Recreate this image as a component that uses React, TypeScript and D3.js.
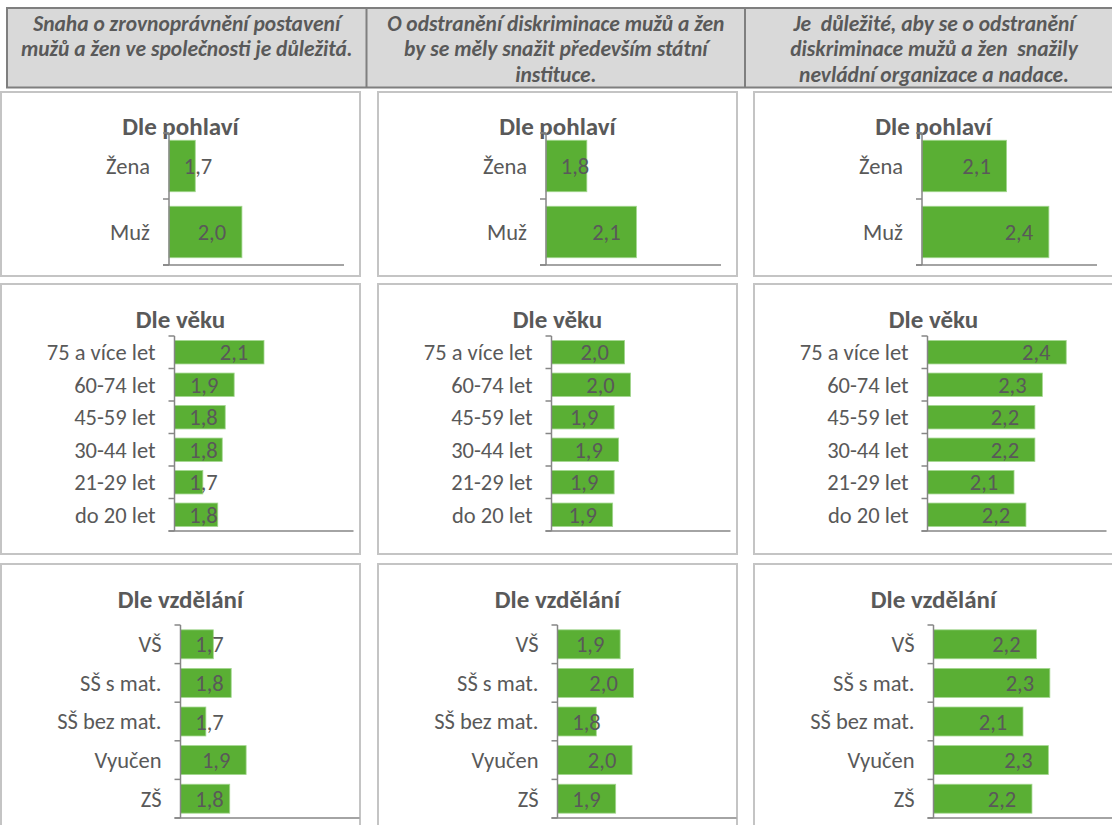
import { useEffect, useRef } from 'react';
import * as d3 from 'd3';

// column headers (one per survey statement)
const questionLines = [
  ['Snaha o zrovnoprávnění postavení', 'mužů a žen ve společnosti je důležitá.'],
  ['O odstranění diskriminace mužů a žen', 'by se měly snažit především státní', 'instituce.'],
  ['Je  důležité, aby se o odstranění', 'diskriminace mužů a žen  snažily', 'nevládní organizace a nadace.'],
];

const groupTitles = ['Dle pohlaví', 'Dle věku', 'Dle vzdělání'];

const genderCats = ['Žena', 'Muž'];
const ageCats = ['75 a více let', '60-74 let', '45-59 let', '30-44 let', '21-29 let', 'do 20 let'];
const eduCats = ['VŠ', 'SŠ s mat.', 'SŠ bez mat.', 'Vyučen', 'ZŠ'];

// average scores, one array per statement (column)
const genderValues = [
  [1.68, 2.0],
  [1.78, 2.12],
  [2.08, 2.37],
];
const ageValues = [
  [2.1, 1.9, 1.84, 1.82, 1.69, 1.79],
  [1.99, 2.03, 1.92, 1.95, 1.92, 1.91],
  [2.43, 2.27, 2.22, 2.22, 2.08, 2.16],
];
const eduValues = [
  [1.72, 1.84, 1.67, 1.94, 1.83],
  [1.92, 2.01, 1.76, 2.0, 1.89],
  [2.19, 2.28, 2.1, 2.27, 2.16],
];

const valueDomain: [number, number] = [1.5, 2.7];

export default function App() {
  const svgRef = useRef<SVGSVGElement>(null);

  useEffect(() => {
    if (!svgRef.current) return;
    const svg = d3.select(svgRef.current);
    svg.selectAll('*').remove();

    const font = 'Carlito, Calibri, Lato, sans-serif';
    const textColor = '#595959';
    const axisColor = '#868686';
    const barColor = '#5aaf34';

    // header band
    const header = svg.append('g');
    header.append('rect')
      .attr('x', 7).attr('y', 8)
      .attr('width', 1125).attr('height', 79.5)
      .attr('fill', '#d9d9d9')
      .attr('stroke', '#7f7f7f')
      .attr('stroke-width', 2);
    [366.5, 745].forEach(x => {
      header.append('line')
        .attr('x1', x).attr('x2', x)
        .attr('y1', 8).attr('y2', 87.5)
        .attr('stroke', '#7f7f7f')
        .attr('stroke-width', 2);
    });
    const headerCenters = [186.7, 555.8, 934];
    questionLines.forEach((lines, i) => {
      lines.forEach((line, j) => {
        header.append('text')
          .attr('x', headerCenters[i])
          .attr('y', 30.5 + j * 25.5)
          .attr('text-anchor', 'middle')
          .attr('font-family', font)
          .attr('font-size', '21.5px')
          .attr('font-weight', 'bold')
          .attr('font-style', 'italic')
          .attr('fill', textColor)
          .style('white-space', 'pre')
          .text(line);
      });
    });

    // panel geometry
    const colX = [1, 378, 754];
    const boxW = 359;
    const rowY = [92, 284, 564];
    const rowH = [184, 270, 275];
    const titleDy = [43, 44, 44];
    const plotTop = [41, 52, 61];
    const plotBottom = [173, 247, 254];
    const axisDx = [168, 173.5, 179.5];
    const axisLen = [175, 179, 179];
    const pad = [0.22, 0.28, 0.25];

    const groups = [
      { cats: genderCats, values: genderValues },
      { cats: ageCats, values: ageValues },
      { cats: eduCats, values: eduValues },
    ];

    const fmt = (v: number) => d3.format('.1f')(v).replace('.', ',');

    groups.forEach((grp, r) => {
      for (let c = 0; c < 3; c++) {
        const g = svg.append('g')
          .attr('transform', `translate(${colX[c]}, ${rowY[r]})`);

        g.append('rect')
          .attr('x', 0).attr('y', 0)
          .attr('width', boxW).attr('height', rowH[r])
          .attr('fill', '#ffffff')
          .attr('stroke', '#c4c4c4')
          .attr('stroke-width', 2);

        const x = d3.scaleLinear()
          .domain(valueDomain)
          .range([axisDx[r], axisDx[r] + axisLen[r]]);
        const y = d3.scaleBand<string>()
          .domain(grp.cats)
          .range([plotTop[r], plotBottom[r]])
          .paddingInner(pad[r])
          .paddingOuter(pad[r] / 2);

        const vals = grp.values[c];
        const data = grp.cats.map((cat, i) => ({ cat, v: vals[i] }));

        g.append('text')
          .attr('x', boxW / 2)
          .attr('y', titleDy[r])
          .attr('text-anchor', 'middle')
          .attr('font-family', font)
          .attr('font-size', '25px')
          .attr('font-weight', 'bold')
          .attr('fill', textColor)
          .text(groupTitles[r]);

        g.selectAll('rect.bar')
          .data(data)
          .enter()
          .append('rect')
          .attr('class', 'bar')
          .attr('x', x(valueDomain[0]))
          .attr('y', d => y(d.cat)!)
          .attr('width', d => x(d.v) - x(valueDomain[0]))
          .attr('height', y.bandwidth())
          .attr('fill', barColor)
          .attr('stroke', '#a3d68f')
          .attr('stroke-width', 0.8);

        // category axis with outside ticks
        const ax = axisDx[r];
        g.append('line')
          .attr('x1', ax).attr('x2', ax)
          .attr('y1', plotTop[r]).attr('y2', plotBottom[r])
          .attr('stroke', axisColor).attr('stroke-width', 1.5);
        for (let i = 0; i <= grp.cats.length; i++) {
          const ty = plotTop[r] + i * y.step();
          g.append('line')
            .attr('x1', ax - 6).attr('x2', ax)
            .attr('y1', ty).attr('y2', ty)
            .attr('stroke', axisColor).attr('stroke-width', 1.5);
        }
        g.append('line')
          .attr('x1', ax - 6).attr('x2', ax + axisLen[r])
          .attr('y1', plotBottom[r]).attr('y2', plotBottom[r])
          .attr('stroke', axisColor).attr('stroke-width', 1.5);

        g.selectAll('text.cat')
          .data(data)
          .enter()
          .append('text')
          .attr('class', 'cat')
          .attr('x', ax - 19)
          .attr('y', d => y(d.cat)! + y.bandwidth() / 2)
          .attr('dy', '0.35em')
          .attr('text-anchor', 'end')
          .attr('font-family', font)
          .attr('font-size', '22.5px')
          .attr('fill', textColor)
          .text(d => d.cat);

        g.selectAll('text.val')
          .data(data)
          .enter()
          .append('text')
          .attr('class', 'val')
          .attr('x', d => Math.max(x(d.v) - 30, ax + 29))
          .attr('y', d => y(d.cat)! + y.bandwidth() / 2)
          .attr('dy', '0.36em')
          .attr('text-anchor', 'middle')
          .attr('font-family', font)
          .attr('font-size', '22.5px')
          .attr('fill', textColor)
          .text(d => fmt(d.v));
      }
    });
  }, []);

  return (
    <div style={{ position: 'absolute', left: 0, top: 0, width: 1112, height: 825, overflow: 'hidden', background: '#ffffff' }}>
      <svg ref={svgRef} width={1112} height={825} />
    </div>
  );
}
